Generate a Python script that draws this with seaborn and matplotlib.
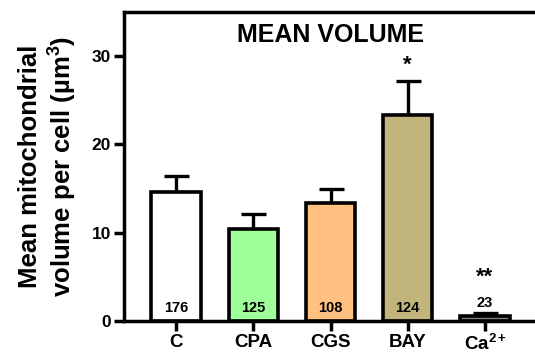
import matplotlib
matplotlib.use("Agg")
import matplotlib.pyplot as plt
import seaborn as sns
import numpy as np
import pandas as pd

categories = ["C", "CPA", "CGS", "BAY", "Ca$^{2+}$"]
means = [14.6, 10.4, 13.3, 23.35, 0.55]
sem = [1.85, 1.75, 1.65, 3.85, 0.3]
counts = ["176", "125", "108", "124", "23"]
stars = ["", "", "", "*", "**"]
colors = ["#FFFFFF", "#9EFF9A", "#FFC080", "#C2B57B", "#808080"]

sns.set_theme(style="white")
plt.rcParams['font.family'] = ['Liberation Sans', 'DejaVu Sans']
plt.rcParams['text.color'] = 'black'
plt.rcParams['axes.labelcolor'] = 'black'
plt.rcParams['xtick.color'] = 'black'
plt.rcParams['ytick.color'] = 'black'
plt.rcParams['mathtext.fontset'] = 'custom'
plt.rcParams['mathtext.rm'] = 'Liberation Sans:bold'
plt.rcParams['mathtext.it'] = 'Liberation Sans:bold'
plt.rcParams['mathtext.bf'] = 'Liberation Sans:bold'

df = pd.DataFrame({"cat": categories, "mean": means})

fig = plt.figure(figsize=(5.35, 3.56), dpi=100)
ax = fig.add_axes([124/535, 35/356, 426.7/535, 309.3/356])

sns.barplot(data=df, x="cat", y="mean", hue="cat", palette=colors, legend=False,
            saturation=1, width=0.64, edgecolor="black", linewidth=2.6, ax=ax, zorder=2)

x = np.arange(len(categories))
ax.errorbar(x, means, yerr=[np.zeros(len(sem)), sem], fmt="none", ecolor="black",
            elinewidth=2.4, capsize=9, capthick=2.4, zorder=1)

count_y = [1.44, 1.44, 1.44, 1.44, 2.0]
for i, c in enumerate(counts):
    ax.text(i, count_y[i], c, ha="center", va="center", fontsize=10.5, fontweight="bold", zorder=3)

star_y = [0, 0, 0, 28.9, 5.0]
for i, s in enumerate(stars):
    if s:
        ax.text(i, star_y[i], s, ha="center", va="center", fontsize=16, fontweight="bold")

ax.set_xlim(-0.673, 4.85)
ax.set_ylim(0, 35)
ax.set_yticks([0, 10, 20, 30])
ax.set_xlabel("")
ax.set_ylabel("Mean mitochondrial\nvolume per cell (µm$^3$)", fontsize=18.5, fontweight="bold",
              linespacing=1.2, labelpad=9)
ax.text(2.0, 32.4, "MEAN VOLUME", ha="center", va="center",
        fontsize=18, fontweight="bold")

for sp in ["left", "bottom", "top", "right"]:
    ax.spines[sp].set_visible(True)
    ax.spines[sp].set_linewidth(2.5)
    ax.spines[sp].set_color("black")

ax.tick_params(axis="both", which="major", length=7.5, width=2.5, color="black",
               labelsize=12.5, pad=2, left=True, bottom=True)
ax.tick_params(axis="x", labelsize=13.5, pad=2)
for lab in ax.get_xticklabels() + ax.get_yticklabels():
    lab.set_fontweight("bold")

fig.savefig("out.png", dpi=100)
